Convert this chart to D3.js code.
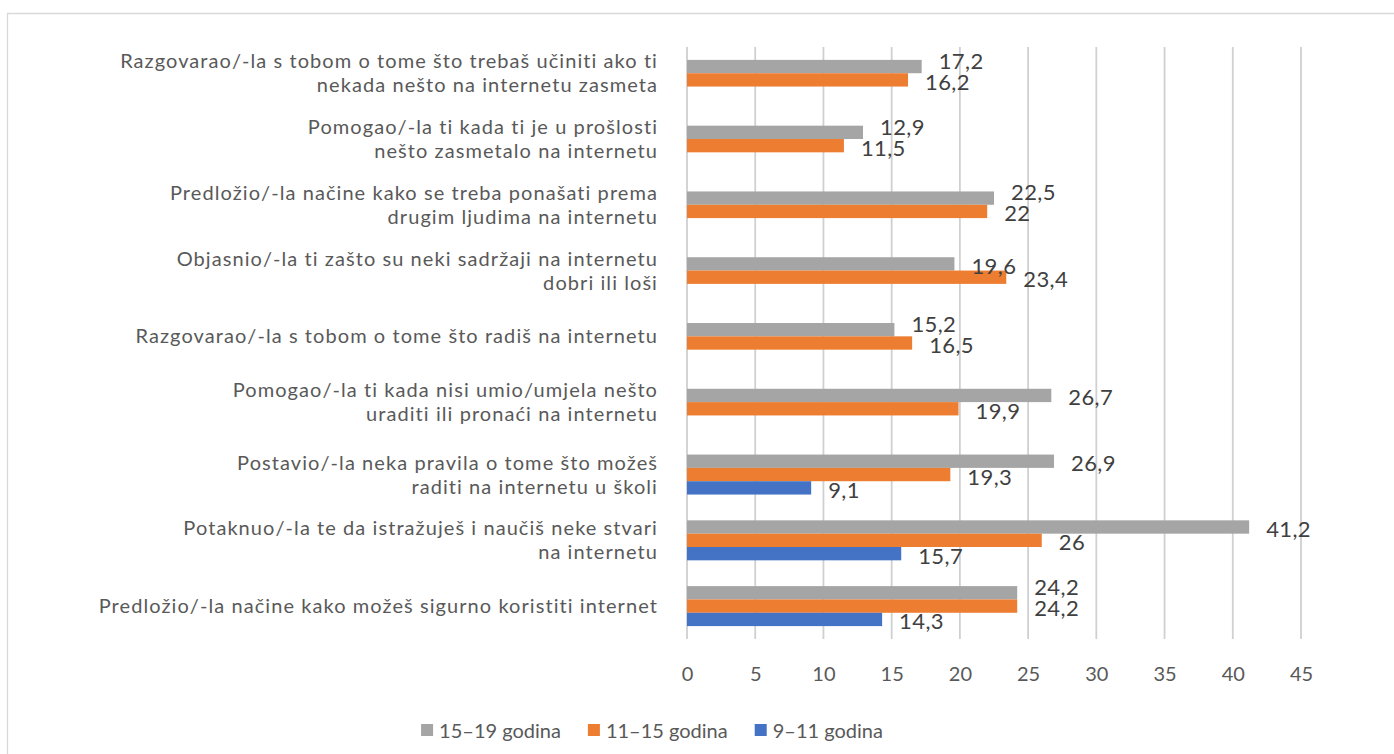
<!DOCTYPE html>
<html>
<head>
<meta charset="utf-8">
<script src="https://cdn.jsdelivr.net/npm/d3@7"></script>
<style>
  html, body { margin: 0; padding: 0; background: #fff; }
  svg { display: block; font-family: Lato, "Open Sans", sans-serif; }
</style>
</head>
<body>
<svg id="chart" width="1394" height="754"></svg>
<script>
// Survey answers, listed top to bottom; "\n" marks the line break of a wrapped label
const categories = [
  "Razgovarao/-la s tobom o tome što trebaš učiniti ako ti\nnekada nešto na internetu zasmeta",
  "Pomogao/-la ti kada ti je u prošlosti\nnešto zasmetalo na internetu",
  "Predložio/-la načine kako se treba ponašati prema\ndrugim ljudima na internetu",
  "Objasnio/-la ti zašto su neki sadržaji na internetu\ndobri ili loši",
  "Razgovarao/-la s tobom o tome što radiš na internetu",
  "Pomogao/-la ti kada nisi umio/umjela nešto\nuraditi ili pronaći na internetu",
  "Postavio/-la neka pravila o tome što možeš\nraditi na internetu u školi",
  "Potaknuo/-la te da istražuješ i naučiš neke stvari\nna internetu",
  "Predložio/-la načine kako možeš sigurno koristiti internet"
];

const seriesNames = ["15–19 godina", "11–15 godina", "9–11 godina"];
const age15to19 = [17.2, 12.9, 22.5, 19.6, 15.2, 26.7, 26.9, 41.2, 24.2];
const age11to15 = [16.2, 11.5, 22, 23.4, 16.5, 19.9, 19.3, 26, 24.2];
const age9to11  = [null, null, null, null, null, null, 9.1, 15.7, 14.3];
const xTicks = [0, 5, 10, 15, 20, 25, 30, 35, 40, 45];

const seriesValues = [age15to19, age11to15, age9to11];
const colors = ["#A5A5A5", "#ED7D31", "#4472C4"];

const svg = d3.select("#chart");
const fmt = v => String(v).replace(".", ",");

// outer chart frame (open to the right and bottom)
svg.append("path")
  .attr("d", "M7.5,760 V13.5 H1400")
  .attr("fill", "none")
  .attr("stroke", "#d9d9d9")
  .attr("stroke-width", 1.3);

const plot = { left: 687, right: 1301, top: 47, bottom: 639 };

const x = d3.scaleLinear().domain([0, 45]).range([plot.left, plot.right]);
const y = d3.scaleBand().domain(d3.range(categories.length))
  .range([plot.top, plot.bottom]).paddingInner(0.392).paddingOuter(0.196);
const ys = d3.scaleBand().domain(d3.range(seriesNames.length)).range([0, y.bandwidth()]);

// vertical gridlines
svg.append("g").selectAll("line").data(xTicks).join("line")
  .attr("x1", d => x(d)).attr("x2", d => x(d))
  .attr("y1", plot.top).attr("y2", plot.bottom)
  .attr("stroke", "#d0d0d0").attr("stroke-width", 1.8);

// x axis tick labels
const xAxis = d3.axisBottom(x).tickValues(xTicks).tickSize(0).tickPadding(0).tickFormat(d => d);
svg.append("g")
  .attr("transform", `translate(0,${plot.bottom + 35})`)
  .call(xAxis)
  .call(g => g.select(".domain").remove())
  .call(g => g.selectAll("text")
    .attr("fill", "#595959").attr("font-size", 20)
    .attr("font-family", "Lato, sans-serif")
    .attr("dy", "0.35em").attr("y", 0));

// bars
const bars = [];
categories.forEach((c, i) => {
  seriesValues.forEach((vals, s) => {
    const v = vals[i];
    if (v == null) return;
    bars.push({ cat: i, s, v });
  });
});

svg.append("g").selectAll("rect").data(bars).join("rect")
  .attr("x", x(0))
  .attr("y", d => y(d.cat) + ys(d.s))
  .attr("width", d => x(d.v) - x(0))
  .attr("height", ys.bandwidth())
  .attr("fill", d => colors[d.s]);

// value labels; labels that would collide inside one group are spread apart
const labelLayer = svg.append("g");
const labels = bars.map(d => ({
  ...d,
  lx: x(d.v) + 17,
  cy: y(d.cat) + ys(d.s) + ys.bandwidth() / 2 + 1.5
}));
labels.forEach(l => {
  const t = labelLayer.append("text")
    .attr("x", l.lx).attr("y", 0)
    .attr("font-size", 22).attr("fill", "#404040")
    .attr("font-family", "Lato, sans-serif")
    .attr("letter-spacing", 0.4)
    .attr("dominant-baseline", "central")
    .text(fmt(l.v));
  l.node = t;
  l.w = t.node().getComputedTextLength();
});
const minGap = 21;
d3.groups(labels, l => l.cat).forEach(([, group]) => {
  group.sort((a, b) => a.cy - b.cy);
  for (let k = 1; k < group.length; k++) {
    const a = group[k - 1], b = group[k];
    const overlapX = a.lx < b.lx + b.w && b.lx < a.lx + a.w;
    if (overlapX && b.cy - a.cy < minGap) {
      const push = minGap - (b.cy - a.cy);
      a.cy -= push;
      for (let j = k - 2; j >= 0; j--) {
        if (group[j + 1].cy - group[j].cy < minGap) group[j].cy = group[j + 1].cy - minGap;
      }
    }
  }
});
labels.forEach(l => l.node.attr("y", l.cy));

// category labels, centred on the bars present in each group
const catLayer = svg.append("g");
const lineH = 24;
categories.forEach((c, i) => {
  const present = seriesValues.map((vals, s) => vals[i] == null ? null : s).filter(s => s != null);
  const top = y(i) + ys(d3.min(present));
  const bottom = y(i) + ys(d3.max(present)) + ys.bandwidth();
  const mid = (top + bottom) / 2;
  const lines = c.split("\n");
  const t = catLayer.append("text")
    .attr("text-anchor", "end")
    .attr("font-size", 20).attr("fill", "#595959")
    .attr("letter-spacing", 1.07)
    .attr("font-family", "Lato, sans-serif")
    .attr("dominant-baseline", "central");
  lines.forEach((ln, k) => {
    t.append("tspan")
      .attr("x", 658)
      .attr("y", mid - 1 + (k - (lines.length - 1) / 2) * lineH)
      .text(ln);
  });
});

// legend, centred below the axis
const legend = svg.append("g").attr("transform", "translate(0,730)");
const items = legend.selectAll("g").data(seriesNames).join("g");
items.append("rect").attr("width", 12).attr("height", 12).attr("y", -6)
  .attr("fill", (d, i) => colors[i]);
items.append("text").attr("x", 18)
  .attr("font-size", 20).attr("fill", "#595959")
  .attr("font-family", "Lato, sans-serif")
  .attr("dominant-baseline", "central")
  .text(d => d);
let widths = [];
items.each(function () { widths.push(this.querySelector("text").getComputedTextLength() + 18); });
const itemGap = 27;
const total = d3.sum(widths) + itemGap * (widths.length - 1);
let cursor = 652 - total / 2;
items.attr("transform", (d, i) => {
  const tx = cursor;
  cursor += widths[i] + itemGap;
  return `translate(${tx},0)`;
});
</script>
</body>
</html>
